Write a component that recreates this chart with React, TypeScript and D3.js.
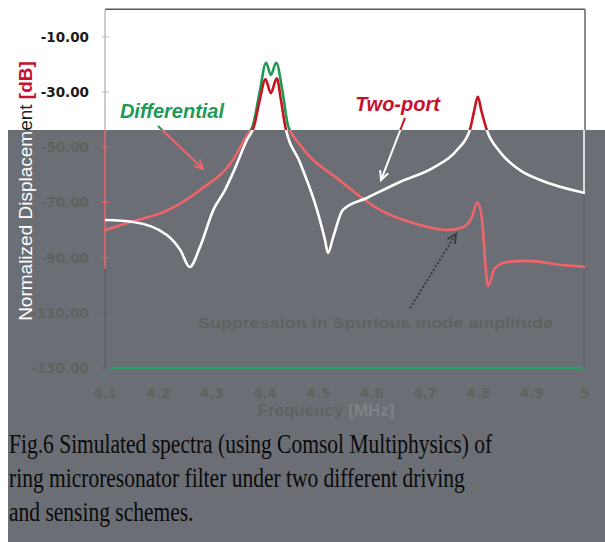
import React, { useLayoutEffect, useRef, useState } from 'react';
import * as d3 from 'd3';

// Differential scheme (green above the grey band, pink inside it)
const diffFreq = [4.1, 4.15, 4.216, 4.278, 4.34, 4.365, 4.3775, 4.39, 4.402, 4.411, 4.421, 4.433, 4.443, 4.466, 4.54, 4.616, 4.678, 4.741, 4.771, 4.788, 4.798, 4.807, 4.813, 4.818, 4.831, 4.854, 4.891, 4.959, 5.0];
const diffDb = [-80, -77, -73, -65.5, -54.6, -46, -42, -30, -19.4, -23.8, -19.4, -30, -42, -49.2, -62, -72.8, -77.5, -80, -79, -75.3, -69.9, -76.4, -92, -100.3, -93.8, -91.6, -91.2, -92.7, -93.4];

// Two-port scheme (red above the grey band, white inside it)
const twoFreq = [4.1, 4.153, 4.216, 4.241, 4.259, 4.278, 4.303, 4.325, 4.34, 4.366, 4.38, 4.39, 4.401, 4.411, 4.422, 4.43, 4.4375, 4.466, 4.4975, 4.5125, 4.518, 4.528, 4.546, 4.591, 4.653, 4.715, 4.76, 4.784, 4.792, 4.799, 4.806, 4.816, 4.841, 4.878, 4.916, 5.0];
const twoDb = [-76.4, -77.1, -81.8, -87.2, -93.4, -86.2, -72.8, -65.5, -59.3, -47.4, -42, -33, -25.4, -30.4, -25, -33, -42, -55.7, -72.7, -83.6, -88.3, -82.5, -72.7, -68.4, -62.6, -57.5, -51, -43.8, -37, -31.7, -37, -43.8, -51.8, -58.3, -61.9, -66.6];

const yTicks = [-10, -30, -50, -70, -90, -110, -130];
const xTicks = [4.1, 4.2, 4.3, 4.4, 4.5, 4.6, 4.7, 4.8, 4.9, 5.0];

const captionLines = [
  'Fig.6 Simulated spectra (using Comsol Multiphysics) of',
  'ring microresonator filter under two different driving',
  'and sensing schemes.',
];

const W = 605;
const H = 542;
const bandTop = 130;
const bandColor = '#6b6e74';
const dimText = '#5f635f';
const dimLine = '#5f6267';

const x = d3.scaleLinear().domain([4.1, 5.0]).range([105, 585]);
const y = d3.scaleLinear().domain([0, -130]).range([9.2, 368]);

const makeLine = (freq: number[]) =>
  d3.line<number>()
    .x((_, i) => x(freq[i]))
    .y(d => y(d))
    .curve(d3.curveMonotoneX);

const diffPath = makeLine(diffFreq)(diffDb) || '';
const twoPath = makeLine(twoFreq)(twoDb) || '';

// arrow head path at (x2,y2)
const arrowHead = (x1: number, y1: number, x2: number, y2: number, len = 10) => {
  const a = Math.atan2(y2 - y1, x2 - x1);
  const s = 0.45;
  const p1 = [x2 - len * Math.cos(a - s), y2 - len * Math.sin(a - s)];
  const p2 = [x2 - len * Math.cos(a + s), y2 - len * Math.sin(a + s)];
  return `M${p1[0]},${p1[1]}L${x2},${y2}L${p2[0]},${p2[1]}`;
};

const Arrow = ({ f1, v1, f2, v2, color, dash, width = 2 }: any) => {
  const x1 = x(f1), y1 = y(v1), x2 = x(f2), y2 = y(v2);
  return (
    <g stroke={color} strokeWidth={width} fill="none">
      <line x1={x1} y1={y1} x2={x2} y2={y2} strokeDasharray={dash} />
      <path d={arrowHead(x1, y1, x2, y2)} />
    </g>
  );
};

const tickFont = "'DejaVu Sans', Verdana, sans-serif";
const sans = "'Liberation Sans', Arial, sans-serif";

const YTitle = ({ main, unit }: { main: string; unit: string }) => (
  <text
    transform={`translate(32,191) rotate(-90)`}
    textAnchor="middle"
    fontFamily={sans}
    fontSize={19}
    fill={main}
  >
    Normalized Displacement <tspan fill={unit} fontWeight="bold">[dB]</tspan>
  </text>
);

export default function App() {
  const firstLine = useRef<SVGTextElement | null>(null);
  const [sx, setSx] = useState(0.77);

  // caption is set in a narrow serif: squeeze it to the measured width of line 1
  useLayoutEffect(() => {
    if (firstLine.current) {
      const len = firstLine.current.getComputedTextLength();
      if (len > 0) setSx(483 / len);
    }
  }, []);

  return (
    <svg
      width={W}
      height={H}
      style={{ position: 'absolute', left: 0, top: 0, background: '#fff' }}
    >
      <defs>
        <clipPath id="topClip">
          <rect x={0} y={0} width={W} height={bandTop} />
        </clipPath>
        <clipPath id="bandClip">
          <rect x={0} y={bandTop} width={W} height={H - bandTop} />
        </clipPath>
      </defs>

      <rect x={0} y={0} width={W} height={H} fill="#fff" />
      <rect x={8} y={bandTop} width={W - 8} height={H - bandTop} fill={bandColor} />

      {/* frame and axes, upper part */}
      <g clipPath="url(#topClip)">
        <line x1={x(4.1)} x2={x(5.0)} y1={y(0)} y2={y(0)} stroke="#555" strokeWidth={1.5} />
        <line x1={x(5.0)} x2={x(5.0)} y1={y(0)} y2={bandTop} stroke="#666" strokeWidth={1.5} />
        <line x1={x(4.1)} x2={x(4.1)} y1={y(0)} y2={bandTop} stroke="#bbb" strokeWidth={1.5} />
        {yTicks.map(t => (
          <line key={t} x1={x(4.1) - 3} x2={x(4.1) + 4} y1={y(t)} y2={y(t)} stroke="#bbb" />
        ))}
        <YTitle main="#222" unit="#c8102e" />
      </g>

      {/* frame and axes, inside the grey band */}
      <g clipPath="url(#bandClip)">
        <line x1={x(4.1)} x2={x(4.1)} y1={bandTop} y2={y(-94)} stroke="#f0646c" strokeWidth={1.5} />
        <line x1={x(4.1)} x2={x(4.1)} y1={y(-94)} y2={y(-130)} stroke={dimLine} strokeWidth={1.5} />
        <line x1={x(5.0) - 1} x2={x(5.0) - 1} y1={bandTop} y2={y(-66.6)} stroke="#fff" strokeWidth={1.5} />
        <line x1={x(5.0) - 1} x2={x(5.0) - 1} y1={y(-66.6)} y2={y(-130)} stroke={dimLine} strokeWidth={1} />
        {yTicks.filter(t => t <= -50).map(t => (
          <line key={t} x1={x(4.1) - 3} x2={x(4.1) + 4} y1={y(t)} y2={y(t)}
            stroke={t >= -90 ? '#f0646c' : dimLine} />
        ))}
        <line x1={x(4.11)} x2={x(4.996)} y1={y(-130)} y2={y(-130)} stroke="#2f9e66" strokeWidth={2.5} />
        <YTitle main="#fff" unit="#fff" />
      </g>

      {/* y tick labels */}
      {yTicks.map(t => (
        <text key={t} x={89} y={y(t) + 5} textAnchor="end" fontFamily={tickFont}
          fontWeight="bold" fontSize={13.5} fill={t > -40 ? '#1a1a1a' : dimText}>
          {t.toFixed(2)}
        </text>
      ))}

      {/* x tick labels */}
      {xTicks.map(t => (
        <text key={t} x={x(t)} y={398} textAnchor="middle" fontFamily={tickFont}
          fontWeight="bold" fontSize={13.5} fill={dimText}>
          {String(+t.toFixed(1))}
        </text>
      ))}
      <text x={326} y={416} textAnchor="middle" fontFamily={sans} fontWeight="bold"
        fontSize={17} fill={dimText}>
        Frequency <tspan fill="#7f8285">[MHz]</tspan>
      </text>

      {/* curves */}
      <g fill="none" strokeWidth={2.6} strokeLinejoin="round">
        <g clipPath="url(#topClip)">
          <path d={diffPath} stroke="#1e9a55" />
          <path d={twoPath} stroke="#c8141e" />
        </g>
        <g clipPath="url(#bandClip)">
          <path d={diffPath} stroke="#f0646c" />
          <path d={twoPath} stroke="#ffffff" />
        </g>
      </g>

      {/* annotations */}
      <text x={x(4.128)} y={y(-39.4)} fontFamily={sans} fontWeight="bold" fontStyle="italic"
        fontSize={20} fill="#1e9a55">Differential</text>
      <text x={x(4.569)} y={y(-36.9)} fontFamily={sans} fontWeight="bold" fontStyle="italic"
        fontSize={20} fill="#c8102e">Two-port</text>

      <g clipPath="url(#topClip)">
        <Arrow f1={4.1994} v1={-42.3} f2={4.2838} v2={-57.9} color="#1e9a55" />
        <Arrow f1={4.6625} v1={-39.4} f2={4.6175} v2={-61.9} color="#c8141e" />
      </g>
      <g clipPath="url(#bandClip)">
        <Arrow f1={4.1994} v1={-42.3} f2={4.2838} v2={-57.9} color="#f0646c" />
        <Arrow f1={4.6625} v1={-39.4} f2={4.6175} v2={-61.9} color="#fff" />
      </g>
      <Arrow f1={4.672} v1={-108.3} f2={4.758} v2={-81.4} color="#3a3c3c" dash="2,2" width={2} />

      <text x={x(4.2744)} y={y(-115.5)} fontFamily={sans} fontWeight="bold" fontSize={15}
        fill={dimText} textLength={355} lengthAdjust="spacingAndGlyphs">
        Suppression in Spurious mode amplitude
      </text>

      {/* caption */}
      <g transform={`translate(9,0) scale(${sx},1)`}>
        {captionLines.map((line, i) => (
          <text key={i} ref={i === 0 ? firstLine : undefined} x={0} y={453 + i * 34}
            fontFamily="'Liberation Serif', 'Times New Roman', serif"
            fontSize={28} fill="#0a0a0a">
            {line}
          </text>
        ))}
      </g>
    </svg>
  );
}
